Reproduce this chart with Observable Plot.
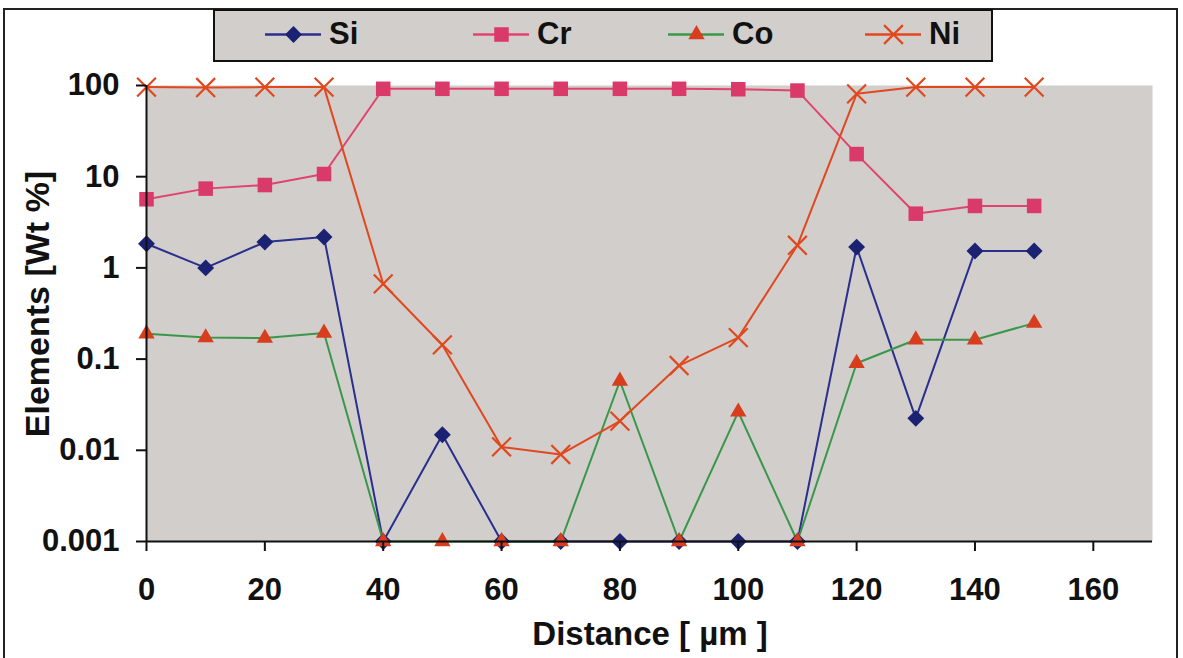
<!DOCTYPE html>
<html><head><meta charset="utf-8">
<script src="https://cdn.jsdelivr.net/npm/d3@7"></script>
<script src="https://cdn.jsdelivr.net/npm/@observablehq/plot@0.6"></script>
<style>
html,body{margin:0;padding:0;background:#fff;}
body{width:1183px;height:658px;position:relative;overflow:hidden;font-family:"Liberation Sans",Arial,sans-serif;}
#frame{position:absolute;left:3px;top:8px;width:1175px;height:700px;border:2px solid #222;box-sizing:border-box;}
#chart{position:absolute;left:0;top:0;}
#legend{position:absolute;left:213px;top:9px;width:780px;height:53px;box-sizing:border-box;border:2px solid #111;background:#d1cecb;}
.item{position:absolute;top:5px;display:flex;align-items:center;font-weight:bold;font-size:31px;color:#111;}
.item svg{margin-right:8px;}
</style></head>
<body>
<div id="chart"></div>
<div id="frame"></div>
<div id="legend"></div>
<script>
const distance = [0,10,20,30,40,50,60,70,80,90,100,110,120,130,140,150];
const si = [1.84,1.0,1.92,2.18,0.001,0.0148,0.001,0.001,0.001,0.001,0.001,0.001,1.69,0.0224,1.53,1.53];
const cr = [5.66,7.4,8.1,10.7,92,92,92,92,92,92,91,88,17.7,3.93,4.78,4.78];
const co = [0.19,0.172,0.17,0.193,0.001,0.001,0.001,0.001,0.0575,0.001,0.0264,0.001,0.09,0.163,0.163,0.248];
const ni = [96,95,96,96,0.667,0.143,0.0109,0.009,0.0209,0.085,0.172,1.77,81,96,96,96];
const elements = ["Si","Cr","Co","Ni"];
const yTicks = [0.001,0.01,0.1,1,10,100];
const yTickLabels = ["0.001","0.01","0.1","1","10","100"];
const xTicks = [0,20,40,60,80,100,120,140,160];

const styles = {
  Si:{line:"#2a2f8e", fill:"#1c2272", symbol:"diamond2", r:7.6},
  Cr:{line:"#e0446c", fill:"#d93a69", symbol:"square", r:8.2},
  Co:{line:"#3a974a", fill:"#d83d1d", symbol:"triangle2", r:7.8},
  Ni:{line:"#e0481f", fill:"#e0481f", symbol:"times", r:8.6}
};
const series = {Si:si, Cr:cr, Co:co, Ni:ni};
const rows = elements.flatMap(el => distance.map((d,i)=>({el, x:d, y:series[el][i]})));

const marks = [
  Plot.frame({fill:"#d1cecb", stroke:"none"}),
];
for (const el of elements) {
  const data = rows.filter(r=>r.el===el);
  const s = styles[el];
  marks.push(Plot.line(data,{x:"x",y:"y",stroke:s.line,strokeWidth:2}));
}
for (const el of elements) {
  const data = rows.filter(r=>r.el===el);
  const s = styles[el];
  if (s.symbol==="times") marks.push(Plot.dot(data,{x:"x",y:"y",symbol:"times",r:s.r,stroke:s.fill,strokeWidth:2.2}));
  else marks.push(Plot.dot(data,{x:"x",y:"y",symbol:s.symbol,r:s.r,fill:s.fill,stroke:"none"}));
}
marks.push(
  Plot.axisY({ticks:yTicks, tickFormat:(d)=>yTickLabels[yTicks.indexOf(d)], tickSize:10, tickPadding:17, stroke:"#111", strokeWidth:2, fontSize:31, fontWeight:"bold", label:null}),
  Plot.axisX({ticks:xTicks, tickSize:10, tickPadding:26, stroke:"#111", strokeWidth:2, fontSize:31, fontWeight:"bold", label:null}),
  Plot.ruleX([0],{stroke:"#111",strokeWidth:2}),
  Plot.ruleY([0.001],{stroke:"#111",strokeWidth:2})
);

const chart = Plot.plot({
  width:1183, height:658,
  marginLeft:146, marginRight:31, marginTop:85, marginBottom:117,
  style:{fontFamily:"'Liberation Sans', Arial, sans-serif", background:"transparent", color:"#111", overflow:"visible"},
  x:{domain:[0,170]},
  y:{type:"log", domain:[0.001,100]},
  marks
});
document.getElementById("chart").appendChild(chart);

// axis titles
const svg = d3.select(chart);
svg.append("text").attr("x",650).attr("y",645).attr("text-anchor","middle")
  .attr("font-size",33).attr("font-weight","bold").attr("fill","#111").text("Distance [ µm ]");
svg.append("text").attr("transform","translate(49,304) rotate(-90)").attr("text-anchor","middle")
  .attr("font-size",34).attr("font-weight","bold").attr("fill","#111").text("Elements [Wt %]");

// legend
const legendPos = {Si:50, Cr:258, Co:453, Ni:650};
const leg = document.getElementById("legend");
for (const el of elements) {
  const s = styles[el];
  const div = document.createElement("div");
  div.className="item"; div.style.left = legendPos[el]+"px";
  const sym = Plot.plot({width:56,height:36,margin:0,axis:null,
    x:{domain:[0,1]}, y:{domain:[0,1]},
    style:{background:"transparent",overflow:"visible"},
    marks:[
      Plot.ruleY([0.5],{x1:0,x2:1,stroke:s.line,strokeWidth:2.5}),
      s.symbol==="times"
        ? Plot.dot([{x:0.5,y:0.5}],{x:"x",y:"y",symbol:"times",r:s.r,stroke:s.fill,strokeWidth:2.2})
        : Plot.dot([{x:0.5,y:0.5}],{x:"x",y:"y",symbol:s.symbol,r:s.r,fill:s.fill})
    ]});
  div.appendChild(sym);
  const t = document.createElement("span"); t.textContent = el; div.appendChild(t);
  leg.appendChild(div);
}
</script>
</body></html>
